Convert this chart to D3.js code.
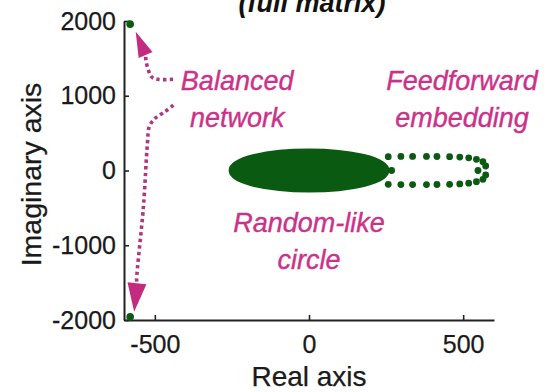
<!DOCTYPE html>
<html><head><meta charset="utf-8">
<script src="https://cdn.jsdelivr.net/npm/d3@7"></script>
<style>body{margin:0;background:#fff} svg{display:block}</style>
</head><body>
<svg id="chart" width="559" height="392"></svg>
<script>
// Axis set-up
const xDomain = [-600, 600];
const yDomain = [-2000, 2000];
const xTicks = [-500, 0, 500];
const yTicks = [-2000, -1000, 0, 1000, 2000];

// Balanced network: outlying eigenvalue pair
const balancedRe = [-580, -580];
const balancedIm = [1958, -1958];

// Random-like bulk: disk of eigenvalues (centre, radius)
const bulkCenterRe = 0;
const bulkCenterIm = 0;
const bulkRadius = 250;

// Feedforward embedding: ring of eigenvalues
const ffRe = [268, 257, 298, 336, 381, 415, 456, 489, 518, 543, 564, 573, 548,
              573, 564, 543, 518, 489, 456, 415, 381, 336, 298, 257];
const ffIm = [0, 185, 188, 188, 188, 187, 185, 180, 170, 150, 118, 60, 0,
              -60, -118, -150, -170, -180, -185, -187, -188, -188, -188, -185];

// Annotation arrows (data coordinates)
const upperArrowRe = [-441, -490, -510, -521, -529];
const upperArrowIm = [1220, 1220, 1251, 1344, 1478];
const upperHead = {baseRe: -530, baseIm: 1545, tipRe: -562, tipIm: 1857, width: 15};
const lowerArrowRe = [-440, -467, -499, -518, -524, -537, -559];
const lowerArrowIm = [876, 787, 698, 586, 364, -484, -1465];
const lowerHead = {baseRe: -558, baseIm: -1509, tipRe: -567, tipIm: -1889, width: 19};

const labels = [
  {lines: ["Balanced", "network"], re: -233, im: 1080},
  {lines: ["Feedforward", "embedding"], re: 496, im: 1080},
  {lines: ["Random-like", "circle"], re: 0, im: -820}
];

const green = "#0b5a12";
const magenta = "#cc3189";
const arrowDot = "#b0367f";
const arrowHead = "#c42a80";
const fontFam = "'Liberation Sans', Arial, Helvetica, sans-serif";

const svg = d3.select("#chart");
const x = d3.scaleLinear().domain(xDomain).range([124, 494]);
const y = d3.scaleLinear().domain(yDomain).range([320, 21]);

// Title (its top runs off the canvas)
svg.append("text")
  .attr("x", 312).attr("y", 12)
  .attr("text-anchor", "middle")
  .attr("font-family", fontFam)
  .attr("font-size", 27).attr("font-weight", "bold").attr("font-style", "italic")
  .attr("fill", "#111")
  .text("(full matrix)");

// Axes (plain hyphen for negatives)
const fmt = d => String(d);
const xAxis = d3.axisBottom(x).tickValues(xTicks).tickSize(-5).tickSizeOuter(0).tickPadding(15)
  .tickFormat(fmt);
const yAxis = d3.axisLeft(y).tickValues(yTicks).tickSize(-5).tickSizeOuter(0).tickPadding(8)
  .tickFormat(fmt);

const gx = svg.append("g").attr("transform", `translate(0,${y(yDomain[0])})`).call(xAxis);
const gy = svg.append("g").attr("transform", `translate(${x(xDomain[0])},0)`).call(yAxis);
[gx, gy].forEach(g => {
  g.select(".domain").attr("stroke", "#222").attr("stroke-width", 2);
  g.selectAll(".tick line").attr("stroke", "#222").attr("stroke-width", 1.6);
  g.selectAll(".tick text").attr("font-family", fontFam).attr("font-size", 25)
    .attr("fill", "#1a1a1a").attr("stroke", "#1a1a1a").attr("stroke-width", 0.25);
});
gx.selectAll(".tick text").attr("dy", "0.71em");

// Axis titles
svg.append("text")
  .attr("x", x(0)).attr("y", 386)
  .attr("text-anchor", "middle")
  .attr("font-family", fontFam).attr("font-size", 28).attr("fill", "#1a1a1a")
  .attr("stroke", "#1a1a1a").attr("stroke-width", 0.25)
  .text("Real axis");
svg.append("text")
  .attr("transform", `translate(41,${y(0) + 4}) rotate(-90)`)
  .attr("text-anchor", "middle")
  .attr("font-family", fontFam).attr("font-size", 28.5).attr("fill", "#1a1a1a")
  .attr("stroke", "#1a1a1a").attr("stroke-width", 0.25)
  .text("Imaginary axis");

// Random-like bulk
svg.append("ellipse")
  .attr("cx", x(bulkCenterRe)).attr("cy", y(bulkCenterIm))
  .attr("rx", x(bulkRadius) - x(0)).attr("ry", y(0) - y(bulkRadius))
  .attr("fill", green).attr("stroke", green).attr("stroke-width", 6.6);

// Feedforward ring
svg.append("g").selectAll("circle")
  .data(d3.range(ffRe.length))
  .join("circle")
  .attr("cx", i => x(ffRe[i])).attr("cy", i => y(ffIm[i]))
  .attr("r", 3.4).attr("fill", green);

// Balanced pair
svg.append("g").selectAll("circle")
  .data(d3.range(balancedRe.length))
  .join("circle")
  .attr("cx", i => x(balancedRe[i])).attr("cy", i => y(balancedIm[i]))
  .attr("r", 3.8).attr("fill", green);

// Dotted arrows
const line = d3.line().curve(d3.curveCatmullRom.alpha(0.5));
function drawArrow(res, ims, head) {
  const pts = res.map((r, i) => [x(r), y(ims[i])]);
  pts.push([x(head.baseRe), y(head.baseIm)]);
  svg.append("path")
    .attr("d", line(pts))
    .attr("fill", "none").attr("stroke", arrowDot)
    .attr("stroke-width", 3.6).attr("stroke-dasharray", "3.4 3.2");
  const bx = x(head.baseRe), by = y(head.baseIm);
  const tx = x(head.tipRe), ty = y(head.tipIm);
  const dx = tx - bx, dy = ty - by, len = Math.hypot(dx, dy);
  const nx = -dy / len * head.width / 2, ny = dx / len * head.width / 2;
  svg.append("path")
    .attr("d", `M${tx},${ty}L${bx + nx},${by + ny}L${bx - nx},${by - ny}Z`)
    .attr("fill", arrowHead);
}
drawArrow(upperArrowRe, upperArrowIm, upperHead);
drawArrow(lowerArrowRe, lowerArrowIm, lowerHead);

// Annotation labels
labels.forEach(l => {
  const t = svg.append("text")
    .attr("text-anchor", "middle")
    .attr("font-family", fontFam).attr("font-size", 27).attr("font-style", "italic")
    .attr("fill", magenta).attr("stroke", magenta).attr("stroke-width", 0.35);
  l.lines.forEach((s, k) => {
    t.append("tspan").attr("x", x(l.re)).attr("y", y(l.im) + k * 37).text(s);
  });
});
</script>
</body></html>
